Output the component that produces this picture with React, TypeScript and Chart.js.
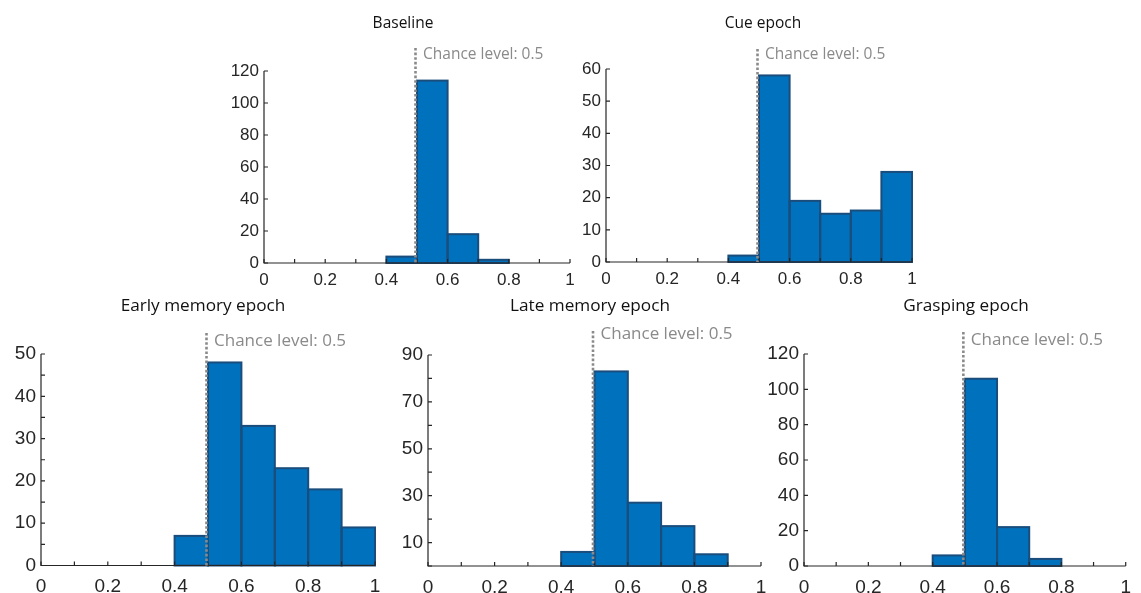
import React, { useEffect, useRef } from 'react';
import { Chart, registerables } from 'chart.js';

Chart.register(...registerables);

// ---------- data ----------
const binStarts = [0.4, 0.5, 0.6, 0.7, 0.8, 0.9];
const binWidth = 0.1;
const xTickValues = [0, 0.1, 0.2, 0.3, 0.4, 0.5, 0.6, 0.7, 0.8, 0.9, 1];
const xTickLabels = ['0', '', '0.2', '', '0.4', '', '0.6', '', '0.8', '', '1'];
const chanceLevel = 0.5;
const chanceLabel = 'Chance level: 0.5';

const panelTitles = ['Baseline', 'Cue epoch', 'Early memory epoch', 'Late memory epoch', 'Grasping epoch'];

const baselineCounts = [4, 114, 18, 2];
const cueCounts = [2, 58, 19, 15, 16, 28];
const earlyMemoryCounts = [7, 48, 33, 23, 18, 9];
const lateMemoryCounts = [6, 83, 27, 17, 5];
const graspingCounts = [6, 106, 22, 4];

const baselineYTicks = [0, 20, 40, 60, 80, 100, 120];
const baselineYLabels = ['0', '20', '40', '60', '80', '100', '120'];
const cueYTicks = [0, 10, 20, 30, 40, 50, 60];
const cueYLabels = ['0', '10', '20', '30', '40', '50', '60'];
const earlyYTicks = [0, 5, 10, 15, 20, 25, 30, 35, 40, 45, 50];
const earlyYLabels = ['0', '', '10', '', '20', '', '30', '', '40', '', '50'];
const lateYTicks = [0, 10, 20, 30, 40, 50, 60, 70, 80, 90];
const lateYLabels = ['', '10', '', '30', '', '50', '', '70', '', '90'];
const graspYTicks = [0, 20, 40, 60, 80, 100, 120];
const graspYLabels = ['0', '20', '40', '60', '80', '100', '120'];

const seriesList = [baselineCounts, cueCounts, earlyMemoryCounts, lateMemoryCounts, graspingCounts];
const yTickList = [baselineYTicks, cueYTicks, earlyYTicks, lateYTicks, graspYTicks];
const yLabelList = [baselineYLabels, cueYLabels, earlyYLabels, lateYLabels, graspYLabels];

// ---------- layout / style ----------
const W = 1141;
const H = 593;
const Y_AXIS_W = 40;
const X_AXIS_H = 27;
const layouts = [
  { l: 264, t: 71, r: 570, b: 263, titleX: 403, titleY: 23.5, chanceTop: 48, chanceTextY: 55, tick: 17, title: 15.5, chance: 15.5, xPad: 7 },
  { l: 606, t: 69, r: 912, b: 262, titleX: 763, titleY: 23.5, chanceTop: 49, chanceTextY: 55, tick: 17, title: 15.5, chance: 15.5, xPad: 7 },
  { l: 41, t: 354, r: 375, b: 565.5, titleX: 203, titleY: 306, chanceTop: 333, chanceTextY: 341, tick: 19, title: 17.2, chance: 17, xPad: 10 },
  { l: 428, t: 355, r: 761, b: 566, titleX: 590, titleY: 306, chanceTop: 331, chanceTextY: 334, tick: 19, title: 17.2, chance: 17, xPad: 10 },
  { l: 804, t: 354, r: 1137, b: 566, titleX: 966, titleY: 306, chanceTop: 332, chanceTextY: 340, tick: 19, title: 17.2, chance: 17, xPad: 10 },
];
const AXIS_COLOR = '#262626';
const BAR_FILL = '#0072BD';
const BAR_EDGE = '#1a4d7c';
const CHANCE_COLOR = '#8a8a8a';
const TICK_FAMILY = '"Liberation Sans", Arial, sans-serif';
const TEXT_FAMILY = '"Open Sans", sans-serif';

function Panel({ idx }: { idx: number }) {
  const ref = useRef<HTMLCanvasElement | null>(null);
  useEffect(() => {
    const lay = layouts[idx];
    const counts = seriesList[idx];
    const yTicks = yTickList[idx];
    const yLabels = yLabelList[idx];
    const yMax = yTicks[yTicks.length - 1];
    const tickFont = { family: TICK_FAMILY, size: lay.tick };

    const decor = {
      id: 'matlabDecor' + idx,
      afterDatasetsDraw(chart: any) {
        const ctx = chart.ctx;
        const a = chart.chartArea;
        const xs = chart.scales.x;
        const ys = chart.scales.y;
        ctx.save();
        // bar edges centred on bin boundaries
        ctx.strokeStyle = BAR_EDGE;
        ctx.lineWidth = 2;
        chart.getDatasetMeta(0).data.forEach((el: any) => {
          const p = el.getProps(['x', 'y', 'width', 'base'], true);
          ctx.strokeRect(p.x - p.width / 2, p.y, p.width, p.base - p.y);
        });
        // axes lines
        ctx.strokeStyle = AXIS_COLOR;
        ctx.lineWidth = 1.2;
        ctx.beginPath();
        ctx.moveTo(a.left, a.top);
        ctx.lineTo(a.left, a.bottom);
        ctx.lineTo(a.right, a.bottom);
        ctx.stroke();
        // inward ticks
        ctx.beginPath();
        xTickValues.forEach((v) => {
          const px = xs.getPixelForValue(v);
          ctx.moveTo(px, a.bottom);
          ctx.lineTo(px, a.bottom - 4);
        });
        yTicks.forEach((v) => {
          const py = ys.getPixelForValue(v);
          ctx.moveTo(a.left, py);
          ctx.lineTo(a.left + 4, py);
        });
        ctx.stroke();
        // chance line
        const cx = xs.getPixelForValue(chanceLevel) - 1.5;
        ctx.strokeStyle = CHANCE_COLOR;
        ctx.lineWidth = 2.6;
        ctx.setLineDash([2.6, 2]);
        ctx.beginPath();
        ctx.moveTo(cx, lay.chanceTop);
        ctx.lineTo(cx, a.bottom);
        ctx.stroke();
        ctx.setLineDash([]);
        // chance text
        ctx.fillStyle = CHANCE_COLOR;
        ctx.font = `${lay.chance}px ${TEXT_FAMILY}`;
        ctx.textAlign = 'left';
        ctx.textBaseline = 'middle';
        ctx.fillText(chanceLabel, cx + 7.5, lay.chanceTextY);
        // title
        ctx.fillStyle = '#111111';
        ctx.font = `${lay.title}px ${TEXT_FAMILY}`;
        ctx.textAlign = 'center';
        ctx.fillText(panelTitles[idx], lay.titleX, lay.titleY);
        ctx.restore();
      },
    };

    const chart = new Chart(ref.current as HTMLCanvasElement, {
      type: 'bar',
      data: {
        datasets: [
          {
            data: counts.map((c, i) => ({ x: binStarts[i] + binWidth / 2, y: c })),
            backgroundColor: BAR_FILL,
            borderWidth: 0,
            barPercentage: 1,
            categoryPercentage: 1,
          },
        ],
      },
      options: {
        animation: false,
        responsive: false,
        devicePixelRatio: 1,
        layout: {
          padding: {
            left: lay.l - Y_AXIS_W,
            top: lay.t,
            right: W - lay.r,
            bottom: H - lay.b - X_AXIS_H,
          },
        },
        plugins: { legend: { display: false }, tooltip: { enabled: false }, title: { display: false } },
        scales: {
          x: {
            type: 'linear',
            min: 0,
            max: 1,
            offset: false,
            grid: { display: false, drawTicks: false, offset: false },
            border: { display: false },
            afterBuildTicks: (s: any) => {
              s.ticks = xTickValues.map((v) => ({ value: v }));
            },
            afterFit: (s: any) => {
              s.height = X_AXIS_H;
            },
            ticks: {
              autoSkip: false,
              maxRotation: 0,
              padding: lay.xPad,
              color: AXIS_COLOR,
              font: tickFont,
              callback: (_v: any, i: number) => xTickLabels[i],
            },
          },
          y: {
            type: 'linear',
            min: 0,
            max: yMax,
            grid: { display: false, drawTicks: false },
            border: { display: false },
            afterBuildTicks: (s: any) => {
              s.ticks = yTicks.map((v) => ({ value: v }));
            },
            afterFit: (s: any) => {
              s.width = Y_AXIS_W;
            },
            ticks: {
              autoSkip: false,
              padding: 5,
              color: AXIS_COLOR,
              font: tickFont,
              callback: (_v: any, i: number) => yLabels[i],
            },
          },
        },
      },
      plugins: [decor],
    } as any);
    return () => chart.destroy();
  }, [idx]);
  return (
    <canvas
      ref={ref}
      width={W}
      height={H}
      style={{ position: 'absolute', left: 0, top: 0, width: W, height: H }}
    />
  );
}

export default function App() {
  return (
    <div style={{ position: 'absolute', left: 0, top: 0, width: W, height: H, background: '#ffffff' }}>
      {[0, 1, 2, 3, 4].map((i) => (
        <Panel key={i} idx={i} />
      ))}
    </div>
  );
}
